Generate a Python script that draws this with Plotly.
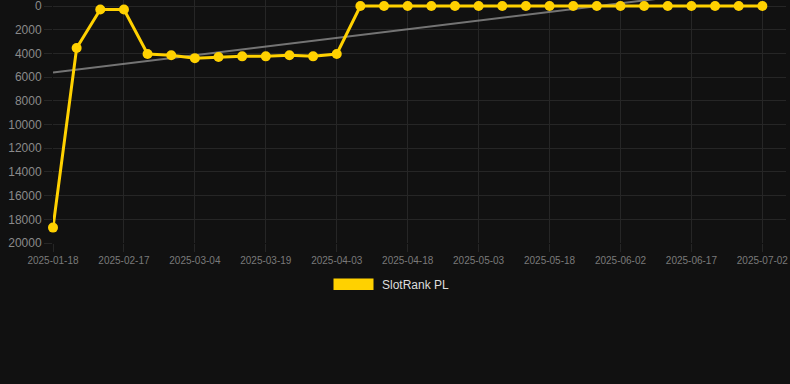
import numpy as np
import plotly.graph_objects as go

dates = [
    "2025-01-18", "2025-02-07", "2025-02-12", "2025-02-17", "2025-02-22", "2025-02-27",
    "2025-03-04", "2025-03-09", "2025-03-14", "2025-03-19", "2025-03-24", "2025-03-29",
    "2025-04-03", "2025-04-08", "2025-04-13", "2025-04-18", "2025-04-23", "2025-04-28",
    "2025-05-03", "2025-05-08", "2025-05-13", "2025-05-18", "2025-05-23", "2025-05-28",
    "2025-06-02", "2025-06-07", "2025-06-12", "2025-06-17", "2025-06-22", "2025-06-27",
    "2025-07-02",
]
rank = [
    18700, 3550, 300, 300, 4050, 4150, 4400, 4300, 4250, 4250, 4150, 4250, 4050,
    1, 1, 1, 1, 1, 1, 1, 1, 1, 1, 1, 1, 1, 1, 1, 1, 1, 1,
]
y_ticks = [0, 2000, 4000, 6000, 8000, 10000, 12000, 14000, 16000, 18000, 20000]
x_tick_labels = dates[::3]
series_name = "SlotRank PL"

# linear trend through the series
idx = np.arange(len(rank))
slope, intercept = np.polyfit(idx, np.array(rank, dtype=float), 1)
trend = (intercept + slope * idx).tolist()

W, H = 790, 384
L, R, T, B = 53, 4, 0, 141
pw, ph = W - L - R, H - T - B
PLOT_TOP = 6  # px from the top of the page where value 0 sits
Y_MAX = 20000
y_top = -Y_MAX * PLOT_TOP / (ph - PLOT_TOP)


def px_x(x):
    return (x - L) / pw


def px_y(y):
    return (H - B - y) / ph


YELLOW = "#FFD100"
GRID = "#262626"

fig = go.Figure()
fig.add_trace(go.Scatter(
    x=dates, y=trend, mode="lines",
    line=dict(color="rgba(150,150,150,0.75)", width=2),
    showlegend=False, hoverinfo="skip",
))
fig.add_trace(go.Scatter(
    x=dates, y=rank, mode="lines+markers", name=series_name,
    line=dict(color=YELLOW, width=3),
    marker=dict(color=YELLOW, size=10),
    cliponaxis=False, showlegend=False,
))

fig.update_layout(
    width=W, height=H,
    margin=dict(l=L, r=R, t=T, b=B),
    paper_bgcolor="#111111", plot_bgcolor="#111111",
    font=dict(family="Liberation Sans, Arial, sans-serif"),
    showlegend=False,
    xaxis=dict(
        type="category", range=[0, 31.0],
        tickmode="array", tickvals=x_tick_labels, ticktext=x_tick_labels,
        showgrid=True, gridcolor=GRID, gridwidth=1,
        ticks="outside", ticklen=8, tickcolor=GRID,
        tickfont=dict(size=10, color="#7a7a7a"),
        showline=False, zeroline=False, tickangle=0,
        automargin=False,
    ),
    yaxis=dict(
        range=[Y_MAX, y_top], tickmode="array", tickvals=y_ticks,
        ticktext=[str(v) for v in y_ticks],
        showgrid=True, gridcolor=GRID, gridwidth=1,
        ticks="outside", ticklen=8, tickcolor=GRID,
        tickfont=dict(size=12, color="#8a8a8a"),
        showline=False, zeroline=False,
        ticklabeloverflow="allow", automargin=False,
    ),
    shapes=[dict(
        type="rect", xref="paper", yref="paper",
        x0=px_x(333.5), x1=px_x(373.5), y0=px_y(290), y1=px_y(278.5),
        fillcolor=YELLOW, line=dict(width=0),
    )],
    annotations=[dict(
        xref="paper", yref="paper", x=px_x(379.5), y=px_y(284.5),
        xanchor="left", yanchor="middle", showarrow=False,
        text=series_name, font=dict(size=12, color="#dddddd"),
    )],
)

fig.write_html("out.html")
